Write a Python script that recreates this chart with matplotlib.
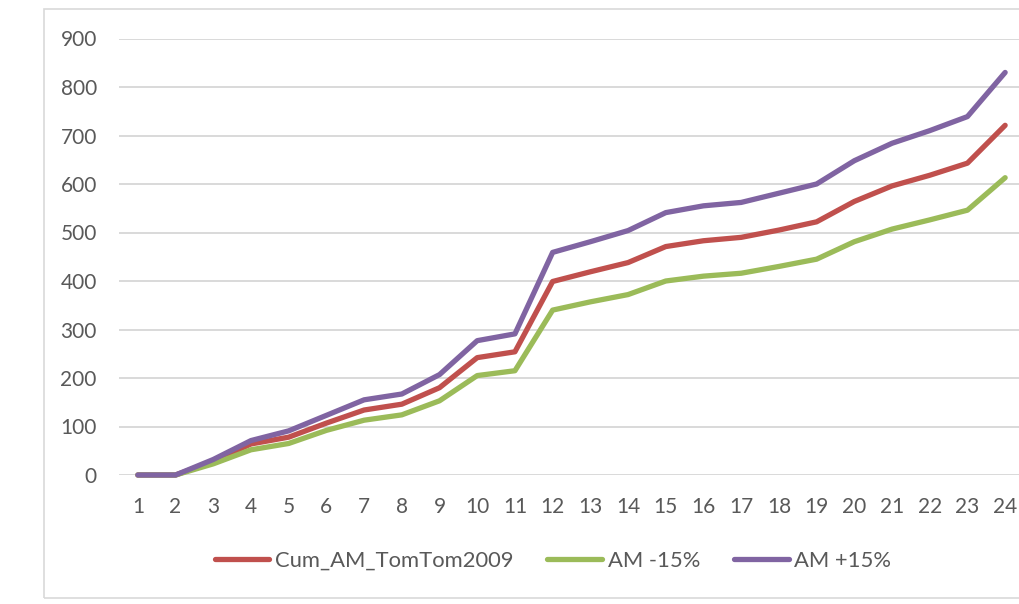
import matplotlib
matplotlib.use("Agg")
import matplotlib.pyplot as plt
from matplotlib.patches import Rectangle

categories = list(range(1, 25))
cum_am = [0, 0, 28, 64, 78, 107, 134, 146, 180, 242, 254, 399, 419, 438, 471, 483, 490, 505, 522, 564, 596, 618, 643, 721]
am_minus = [0, 0, 23, 52, 65, 92, 113, 124, 153, 205, 215, 340, 357, 372, 400, 410, 416, 430, 445, 481, 507, 526, 546, 613]
am_plus = [0, 0, 32, 71, 91, 123, 155, 167, 207, 277, 291, 459, 481, 504, 541, 555, 562, 581, 600, 648, 684, 710, 739, 830]
labels = ["Cum_AM_TomTom2009", "AM -15%", "AM +15%"]
colors = ["#C0504D", "#9BBB59", "#8064A2"]
yticks = list(range(0, 1000, 100))

plt.rcParams["font.family"] = ["Lato", "DejaVu Sans"]
W, H = 1019, 604
fig = plt.figure(figsize=(W / 100, H / 100), dpi=100)

# outer chart border
fig.patches.append(Rectangle((44 / W, 1 - 598 / H), 1.2, (598 - 9) / H,
                             transform=fig.transFigure, fill=False,
                             edgecolor="#D9D9D9", linewidth=1.2))

ax = fig.add_axes([119 / W, 1 - 475 / H, (1024 - 119) / W, (475 - 38.5) / H])
for series, lab, col in zip([cum_am, am_minus, am_plus], labels, colors):
    ax.plot(categories, series, color=col, linewidth=3.8, label=lab,
            solid_capstyle="round", solid_joinstyle="round", clip_on=False, zorder=3)

ax.set_xlim(0.5, 24.5)
ax.set_ylim(0, 900)
ax.set_yticks(yticks)
ax.set_xticks(categories)
ax.set_xticklabels([str(c) for c in categories])
ax.grid(axis="y", color="#D9D9D9", linewidth=1.4)
ax.set_axisbelow(True)
for s in ax.spines.values():
    s.set_visible(False)
ax.tick_params(axis="both", length=0, labelsize=15, labelcolor="#595959")
ax.tick_params(axis="y", pad=16)
ax.tick_params(axis="x", pad=16)

fig.legend(loc="center", bbox_to_anchor=(553 / W, 1 - 561 / H), ncol=3,
           frameon=False, fontsize=15.8, handlelength=2.5, handletextpad=0.25,
           columnspacing=1.55, labelcolor="#595959")

fig.savefig("out.png", dpi=100)
